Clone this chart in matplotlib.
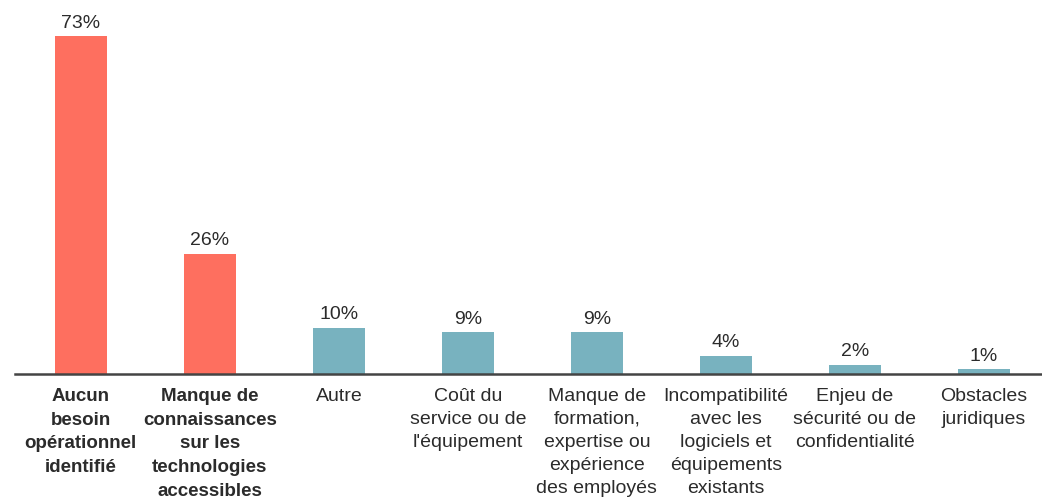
import matplotlib.pyplot as plt

plt.rcParams['font.family'] = ['Liberation Sans', 'DejaVu Sans']

categories = [
    "Aucun\nbesoin\nopérationnel\nidentifié",
    "Manque de\nconnaissances\nsur les\ntechnologies\naccessibles",
    "Autre",
    "Coût du\nservice ou de\nl'équipement",
    "Manque de\nformation,\nexpertise ou\nexpérience\ndes employés",
    "Incompatibilité\navec les\nlogiciels et\néquipements\nexistants",
    "Enjeu de\nsécurité ou de\nconfidentialité",
    "Obstacles\njuridiques",
]
values = [73, 26, 10, 9, 9, 4, 2, 1]
highlighted = [True, True, False, False, False, False, False, False]

red = "#fe6f5f"
teal = "#78b2bf"
text_col = "#2b2b2b"

fig = plt.figure(figsize=(10.42, 5.0), dpi=100)
ax = fig.add_axes([0.0144, 0.252, 0.9856, 0.74])

x = range(len(values))
colors = [red if h else teal for h in highlighted]
bars = ax.bar(x, values, width=0.40, color=colors, zorder=2)

for xi, v in zip(x, values):
    ax.annotate(f"{v}%", (xi, v), xytext=(0, 3.5), textcoords="offset points",
                ha="center", va="bottom", fontsize=14, color=text_col)

ax.set_xlim(-0.51, 7.45)
ax.set_ylim(0, 80)
ax.set_xticks(list(x))
ax.set_xticklabels(categories, fontsize=14, color=text_col, linespacing=1.46)
for lab, h in zip(ax.get_xticklabels(), highlighted):
    if h:
        lab.set_fontweight("bold")
        lab.set_fontsize(13.5)
        lab.set_linespacing(1.52)
ax.tick_params(axis="x", length=0, pad=10)
ax.set_yticks([])

for side in ["top", "right", "left"]:
    ax.spines[side].set_visible(False)
ax.spines["bottom"].set_color("#444444")
ax.spines["bottom"].set_linewidth(1.8)

fig.savefig("out.png", dpi=100)
